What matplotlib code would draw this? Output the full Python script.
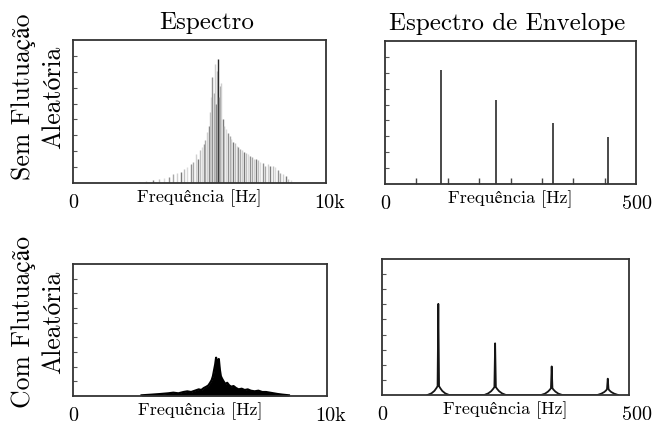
import numpy as np
import matplotlib.pyplot as plt
from matplotlib.transforms import ScaledTranslation

plt.rcParams['font.family'] = ['cmr10', 'STIXGeneral']
plt.rcParams['axes.unicode_minus'] = False

# spectrum, steady case: discrete lines (Hz, relative amplitude)
spec_freq = [2600, 2900, 3150, 3400, 3600, 3800, 3950, 4100, 4250, 4400,
             4520, 4650, 4760, 4870, 4950, 5000, 5080, 5160, 5230, 5300,
             5360, 5420, 5470, 5510, 5560, 5610, 5660, 5700, 5725, 5770,
             5810, 5860, 5920, 5980, 6050, 6120, 6190, 6260, 6330, 6400,
             6470, 6540, 6610, 6690, 6760, 6830, 6910, 6990, 7070, 7150,
             7230, 7320, 7410, 7500, 7600, 7700, 7800, 7900, 8000, 8100,
             8200, 8300, 8400, 8500, 8600]
spec_amp = [0.01, 0.015, 0.02, 0.03, 0.035, 0.045, 0.06, 0.07, 0.08, 0.10,
            0.11, 0.13, 0.15, 0.20, 0.17, 0.23, 0.25, 0.27, 0.30, 0.36,
            0.40, 0.50, 0.60, 0.74, 0.63, 0.83, 0.55, 0.78, 0.865, 0.60,
            0.68, 0.70, 0.45, 0.40, 0.38, 0.35, 0.33, 0.31, 0.29, 0.28,
            0.26, 0.25, 0.24, 0.23, 0.22, 0.21, 0.20, 0.19, 0.18, 0.17,
            0.17, 0.16, 0.15, 0.14, 0.12, 0.13, 0.12, 0.12, 0.11, 0.09,
            0.07, 0.06, 0.05, 0.03, 0.02]

# spectrum with random fluctuation: smeared band (Hz, amplitude)
band_freq = [2700, 3100, 3450, 3750, 3950, 4150, 4350, 4500, 4650, 4800,
             4950, 5050, 5150, 5250, 5330, 5400, 5460, 5510, 5560, 5600,
             5635, 5665, 5700, 5740, 5780, 5820, 5870, 5930, 6000, 6070,
             6150, 6230, 6320, 6420, 6520, 6640, 6760, 6880, 7000, 7150,
             7300, 7450, 7600, 7750, 7900, 8050, 8250, 8500]
band_amp = [0.005, 0.01, 0.015, 0.02, 0.025, 0.02, 0.03, 0.035, 0.03, 0.04,
            0.05, 0.045, 0.06, 0.07, 0.08, 0.10, 0.12, 0.15, 0.20, 0.24,
            0.29, 0.21, 0.23, 0.28, 0.20, 0.15, 0.13, 0.11, 0.09, 0.10,
            0.08, 0.07, 0.075, 0.06, 0.05, 0.055, 0.045, 0.05, 0.04, 0.035,
            0.04, 0.03, 0.03, 0.025, 0.02, 0.015, 0.01, 0.005]

# envelope spectrum, steady case: bearing defect harmonics
env_freq = [111, 222, 334, 445]
env_amp = [0.80, 0.587, 0.43, 0.33]

# envelope spectrum with fluctuation: spikes with spread skirts
envf_freq = [92, 100, 106, 110, 112.5, 114, 115.5, 118, 122, 128, 136,
             207, 215, 221, 225, 227.5, 229, 230.5, 233, 237, 243, 251,
             322, 330, 336, 340, 342, 343.5, 345, 347, 351, 357, 365,
             436, 444, 450, 454, 455.5, 457, 458.5, 460, 464, 470, 478]
envf_amp = [0.0, 0.012, 0.03, 0.05, 0.065, 0.67, 0.065, 0.05, 0.03, 0.012, 0.0,
            0.0, 0.012, 0.028, 0.045, 0.058, 0.38, 0.058, 0.045, 0.028, 0.012, 0.0,
            0.0, 0.01, 0.025, 0.04, 0.05, 0.21, 0.05, 0.04, 0.025, 0.01, 0.0,
            0.0, 0.01, 0.022, 0.035, 0.045, 0.12, 0.045, 0.035, 0.022, 0.01, 0.0]

row_labels = ['Sem Flutuação\nAleatória', 'Com Flutuação\nAleatória']
col_titles = ['Espectro', 'Espectro de Envelope']

W, H = 654, 428
fig = plt.figure(figsize=(W / 100, H / 100), dpi=100)


def box(left, top, right, bottom):
    return fig.add_axes([left / W, 1 - bottom / H, (right - left) / W, (bottom - top) / H])


ax_tl = box(73, 40, 326, 183)
ax_tr = box(385, 41, 636, 184)
ax_bl = box(73, 264, 327, 396)
ax_br = box(382, 259, 629, 395)


def style(ax, fmax, right_label, shift):
    ax.set_xlim(0, fmax)
    ax.set_ylim(0, 1)
    for sp in ax.spines.values():
        sp.set_linewidth(1.3)
        sp.set_color('#333333')
    ax.set_yticks(np.arange(1, 9) / 9)
    ax.tick_params(axis='y', direction='in', length=3, width=0.8,
                   color='#555555', labelleft=False)
    ax.set_xticks([0, fmax], ['0', right_label])
    ax.tick_params(axis='x', length=0, pad=8, labelsize=14.5)
    lab = ax.get_xticklabels()[-1]
    lab.set_transform(lab.get_transform() + ScaledTranslation(shift / 100, 0, fig.dpi_scale_trans))
    ax.set_xlabel('Frequência [Hz]', fontsize=13)
    ax.xaxis.set_label_coords(0.5, -0.045)


style(ax_tl, 10000, '10k', 4)
style(ax_tr, 500, '500', 1)
style(ax_bl, 10000, '10k', 4)
style(ax_br, 500, '500', 8)

# top left: line spectrum
shades = ['#a8a8a8', '#cfcfcf', '#7a7a7a', '#bdbdbd', '#dadada', '#909090']
colors = [shades[i % len(shades)] for i in range(len(spec_freq))]
colors[spec_amp.index(max(spec_amp))] = '#2a2a2a'
ax_tl.vlines(spec_freq, 0, spec_amp, colors=colors, linewidth=1.0)

# top right: envelope harmonics plus inward ticks along the bottom
ax_tr.vlines(env_freq, 0, env_amp, colors='#4a4a4a', linewidth=1.4)
ax_tr.set_xticks(np.arange(1, 8) * 62.5, minor=True)
ax_tr.tick_params(axis='x', which='minor', direction='in', length=4, width=1.0, color='#444444')

# bottom left: smeared band
ax_bl.fill_between(band_freq, 0, band_amp, color='black', linewidth=0)
ax_bl.plot(band_freq, band_amp, color='black', linewidth=1.6)

# bottom right: spikes with skirts
ax_br.plot(envf_freq, envf_amp, color='#151515', linewidth=1.3)

ax_tl.set_title(col_titles[0], fontsize=18, pad=8, x=0.53)
ax_tr.set_title(col_titles[1], fontsize=18, pad=8, x=0.486)

fig.text(38 / W, 1 - 97 / H, row_labels[0], rotation=90, ha='center', va='center',
         multialignment='center', fontsize=18.5, linespacing=1.3)
fig.text(38 / W, 1 - 322 / H, row_labels[1], rotation=90, ha='center', va='center',
         multialignment='center', fontsize=18.5, linespacing=1.3)

fig.savefig('out.png', dpi=100)
